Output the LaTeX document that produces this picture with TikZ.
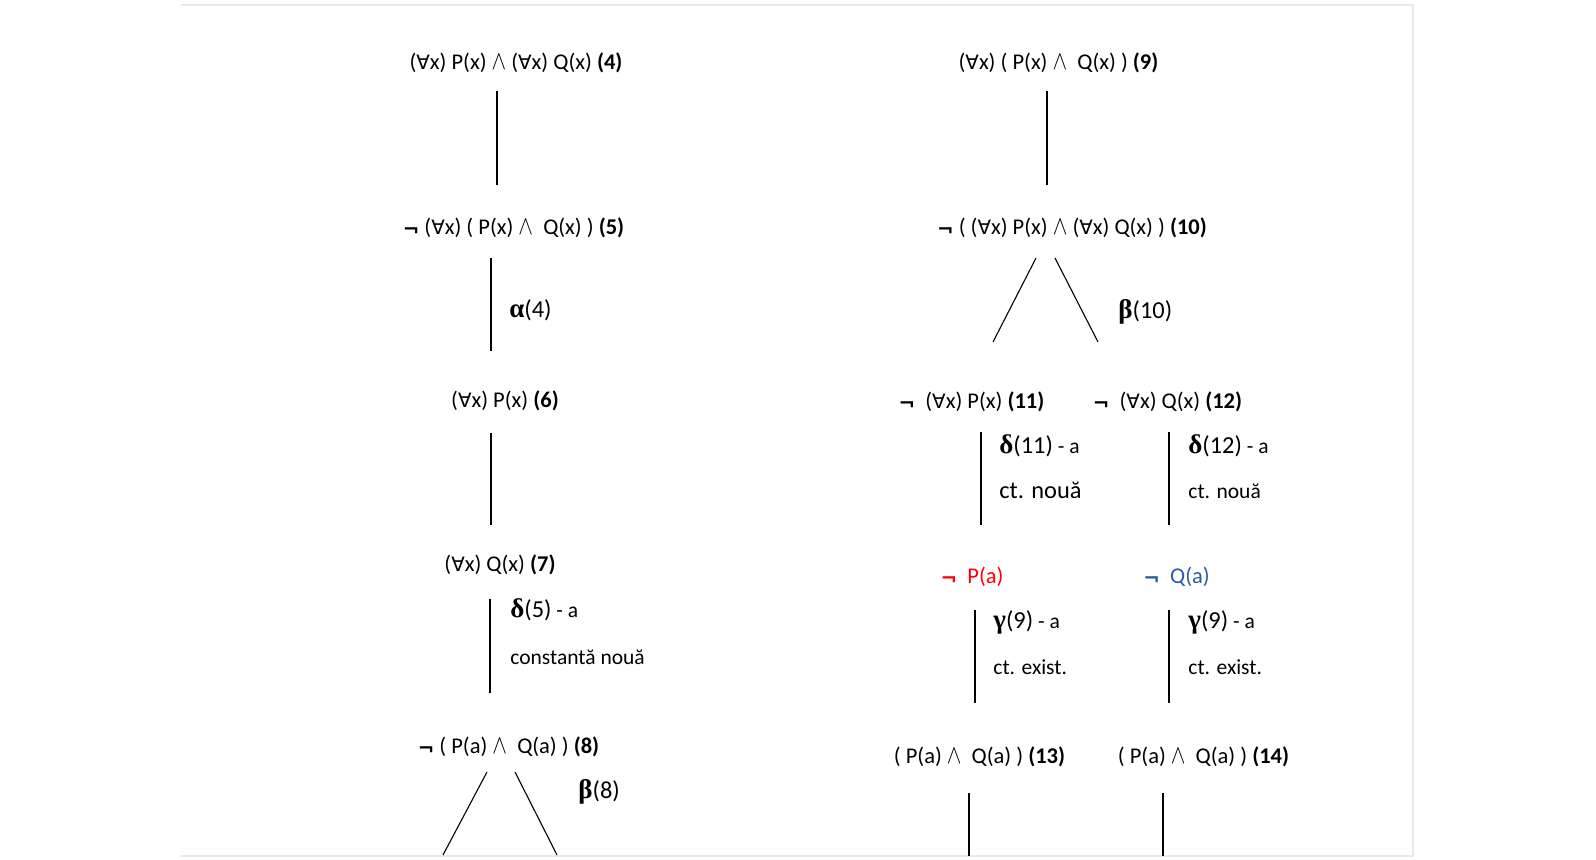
\documentclass[tikz,border=0pt]{standalone}
\usepackage{fontspec}
\setmainfont{Carlito}
\newfontfamily\symf[Scale=0.88]{DejaVu Sans}
\newfontfamily\grkf{Liberation Serif}
\usepackage{tikz}
\usetikzlibrary{positioning}
\definecolor{negblue}{RGB}{38,92,160}
\definecolor{pagegray}{RGB}{232,232,232}
\newcommand{\fa}{{\symf ∀}}
\newcommand{\et}{\smash{\scalebox{1}[1.22]{$\wedge$}}}
\newcommand{\nonot}{\raisebox{-1.1pt}{\symf\bfseries ¬}}
\newcommand{\rulename}[2]{{\grkf\bfseries\fontsize{13.5}{15}\selectfont #1}{\fontsize{12.2}{15}\selectfont(#2)}}
\tikzset{
  formula/.style={inner sep=0pt, font=\fontsize{11.25}{13}\selectfont},
  rulelab/.style={anchor=west, inner sep=0pt, font=\fontsize{10.75}{13}\selectfont},
  branch/.style={line width=0.55pt}
}

\begin{document}
\begin{tikzpicture}[x=0.5pt, y=-0.5pt]
        \useasboundingbox (0,0) rectangle (1596,860);
        \draw[pagegray, line width=1pt] (181,5) -- (1413,5) -- (1413,856) -- (181,856);

        % left branch
        \node[formula] (f4) at (516,63) {(\fa x) P(x) \et{} (\fa x) Q(x) \textbf{(4)}};
        \node[formula] (f5) at (513.5,228) {\nonot{} (\fa x) ( P(x) \et\ \ Q(x) ) \textbf{(5)}};
        \node[formula] (f6) at (505,401) {(\fa x) P(x) \textbf{(6)}};
        \node[formula] (f7) at (500,565) {(\fa x) Q(x) \textbf{(7)}};
        \node[formula] (f8) at (508.5,747) {\nonot{} ( P(a) \et\ \ Q(a) ) \textbf{(8)}};

        \node[rulelab] (r4) at (509,310) {\rulename{α}{4}};
        \node[rulelab] (r5) at (510,610) {\rulename{δ}{5} - a};
        \node[rulelab] (r5b) at (510,657) {constantă nouă};
        \node[rulelab] (r8) at (578,792) {\rulename{β}{8}};

        \draw[branch] (f4) ++(-19,28) -- ++(0,94);
        \draw[branch] (f5) ++(-22.5,30) -- ++(0,93);
        \draw[branch] (f6) ++(-14,32) -- ++(0,92);
        \draw[branch] (f7) ++(-10,34) -- ++(0,94);
        \draw[branch] (f8) ++(-21.5,25) -- ++(-44,83);
        \draw[branch] (f8) ++(6.5,25) -- ++(42,83);

        % right branch
        \node[formula] (f9) at (1058.5,63) {(\fa x) ( P(x) \et\ \ Q(x) ) \textbf{(9)}};
        \node[formula] (f10) at (1072,228) {\nonot{} ( (\fa x) P(x) \et{} (\fa x) Q(x) ) \textbf{(10)}};
        \node[formula] (f11) at (971.5,402) {\nonot\ \ (\fa x) P(x) \textbf{(11)}};
        \node[formula] (f12) at (1167.5,402) {\nonot\ \ (\fa x) Q(x) \textbf{(12)}};
        \node[formula, red] (na) at (972,577) {\nonot\ \ P(a)};
        \node[formula, negblue] (nq) at (1176.5,577) {\nonot\ \ Q(a)};
        \node[formula] (f13) at (979.5,757) {( P(a) \et\ \ Q(a) ) \textbf{(13)}};
        \node[formula] (f14) at (1203.5,757) {( P(a) \et\ \ Q(a) ) \textbf{(14)}};

        \node[rulelab] (r10) at (1118,312) {\rulename{β}{10}};
        \node[rulelab] (r11) at (999,446) {\rulename{δ}{11} - a};
        \node[rulelab, font=\fontsize{12.2}{14}\selectfont] (r11b) at (999,490) {ct. nouă};
        \node[rulelab] (r12) at (1188,446) {\rulename{δ}{12} - a};
        \node[rulelab] (r12b) at (1188,491) {ct. nouă};
        \node[rulelab] (r9a) at (993,622) {\rulename{γ}{9} - a};
        \node[rulelab] (r9ab) at (993,667) {ct. exist.};
        \node[rulelab] (r9b) at (1188,622) {\rulename{γ}{9} - a};
        \node[rulelab] (r9bb) at (1188,667) {ct. exist.};

        \draw[branch] (f9) ++(-11.5,28) -- ++(0,94);
        \draw[branch] (f10) ++(-36,30) -- ++(-43,84);
        \draw[branch] (f10) ++(-17,30) -- ++(43,84);
        \draw[branch] (f11) ++(9.5,30) -- ++(0,93);
        \draw[branch] (f12) ++(1.5,30) -- ++(0,93);
        \draw[branch] (na) ++(3,33) -- ++(0,93);
        \draw[branch] (nq) ++(-7.5,33) -- ++(0,93);
        \draw[branch] (f13) ++(-10.5,36) -- ++(0,63);
        \draw[branch] (f14) ++(-40.5,36) -- ++(0,63);
    \end{tikzpicture}
\end{document}
